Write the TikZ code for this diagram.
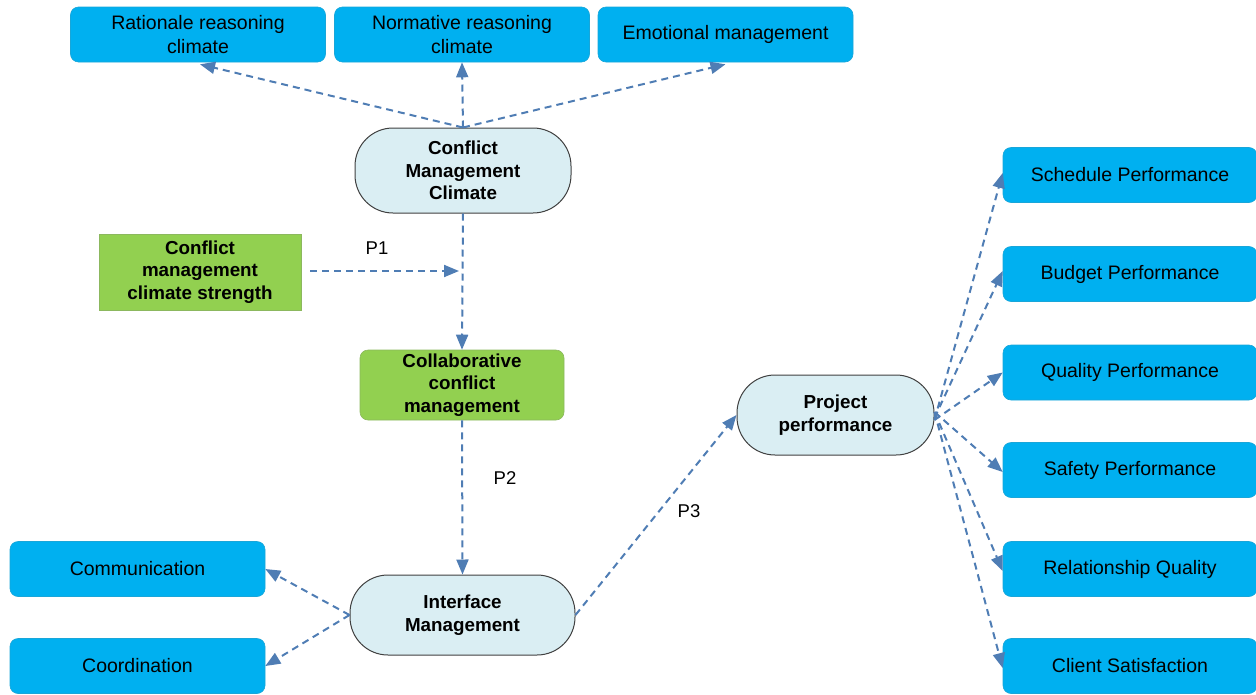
\documentclass[tikz,border=0pt]{standalone}
\usepackage{fontspec}
\setmainfont{Liberation Sans}
\usetikzlibrary{arrows.meta}
\definecolor{boxblue}{HTML}{00B0F0}
\definecolor{boxgreen}{HTML}{92D050}
\definecolor{stadfill}{HTML}{DAEEF3}
\definecolor{arrowc}{HTML}{4F7DB4}
\tikzset{
  bluebox/.style={draw=boxblue!80!gray, line width=0.6pt, fill=boxblue, rounded corners=8pt, minimum width=255pt, minimum height=55pt, align=center, inner sep=0pt, font=\fontsize{19.5}{24}\selectfont},
  stadium/.style={draw=black!75, line width=1pt, fill=stadfill, rounded corners=38pt, align=center, inner sep=0pt, font=\fontsize{18.8}{22.5}\selectfont\bfseries},
  greenbox/.style={draw=boxgreen!70!gray, line width=0.6pt, fill=boxgreen, align=center, inner sep=0pt, font=\fontsize{18.8}{22.5}\selectfont\bfseries},
  conn/.style={draw=arrowc, line width=2pt, dash pattern=on 7pt off 5pt, -{Triangle[length=15pt,width=12pt]}},
  plabel/.style={font=\fontsize{18.5}{20}\selectfont, inner sep=0pt}
}
\begin{document}
\begin{tikzpicture}[x=1pt,y=-1pt]
\useasboundingbox (0,0) rectangle (1256,694);
% top boxes
\node[bluebox] (rat) at (198,34.5) {Rationale reasoning\\climate};
\node[bluebox] (norm) at (462,34.5) {Normative reasoning\\climate};
\node[bluebox] (emo) at (725.5,34.5) {Emotional management};
% central column
\node[stadium, minimum width=216pt, minimum height=85pt] (cmc) at (463,170.5) {Conflict\\Management\\Climate};
\node[greenbox, minimum width=202pt, minimum height=76pt] (str) at (200,272) {Conflict\\management\\climate strength};
\node[greenbox, rounded corners=8pt, minimum width=204pt, minimum height=70pt] (ccm) at (462,385) {Collaborative\\conflict\\management};
\node[stadium, minimum width=225pt, minimum height=80pt] (im) at (462.5,615) {Interface\\Management};
% left bottom
\node[bluebox] (com) at (137.5,569) {Communication};
\node[bluebox] (coo) at (137.5,666) {Coordination};
% project performance
\node[stadium, minimum width=197pt, minimum height=80pt] (pp) at (835.5,415) {Project\\performance};
% right boxes
\node[bluebox, minimum width=254pt] (sch) at (1130,175) {Schedule Performance};
\node[bluebox, minimum width=254pt] (bud) at (1130,274) {Budget Performance};
\node[bluebox, minimum width=254pt] (qua) at (1130,372.5) {Quality Performance};
\node[bluebox, minimum width=254pt] (saf) at (1130,470) {Safety Performance};
\node[bluebox, minimum width=254pt] (rel) at (1130,569) {Relationship Quality};
\node[bluebox, minimum width=254pt] (cli) at (1130,666) {Client Satisfaction};
% labels
\node[plabel] (p1) at (377,248) {P1};
\node[plabel] (p2) at (505,478) {P2};
\node[plabel] (p3) at (689,511) {P3};
\coordinate (p1end) at (459,271);
% connectors
\draw[conn] (cmc.north) -- ([xshift=2pt,yshift=-2pt]rat.south);
\draw[conn] (cmc.north) -- (norm.south);
\draw[conn] (cmc.north) -- ([yshift=-2pt]emo.south);
\draw[conn] (cmc.south) -- (ccm.north);
\draw[conn, shorten <=9pt] ([yshift=1pt]str.east) -- (p1end);
\draw[conn] (ccm.south) -- (im.north);
\draw[conn] (im.east) -- (pp.west);
\draw[conn] (im.west) -- (com.east);
\draw[conn] (im.west) -- (coo.east);
\draw[conn] ([yshift=-5pt]pp.east) -- ([yshift=2pt]sch.west);
\draw[conn] ([yshift=-3pt]pp.east) -- ([yshift=3pt]bud.west);
\draw[conn] ([yshift=-5pt]pp.east) -- (qua.west);
\draw[conn] ([yshift=3pt]pp.east) -- ([yshift=-2pt]saf.west);
\draw[conn] ([yshift=3pt]pp.east) -- ([yshift=-2pt]rel.west);
\draw[conn] ([yshift=3pt]pp.east) -- ([yshift=-2pt]cli.west);
\end{tikzpicture}
\end{document}
